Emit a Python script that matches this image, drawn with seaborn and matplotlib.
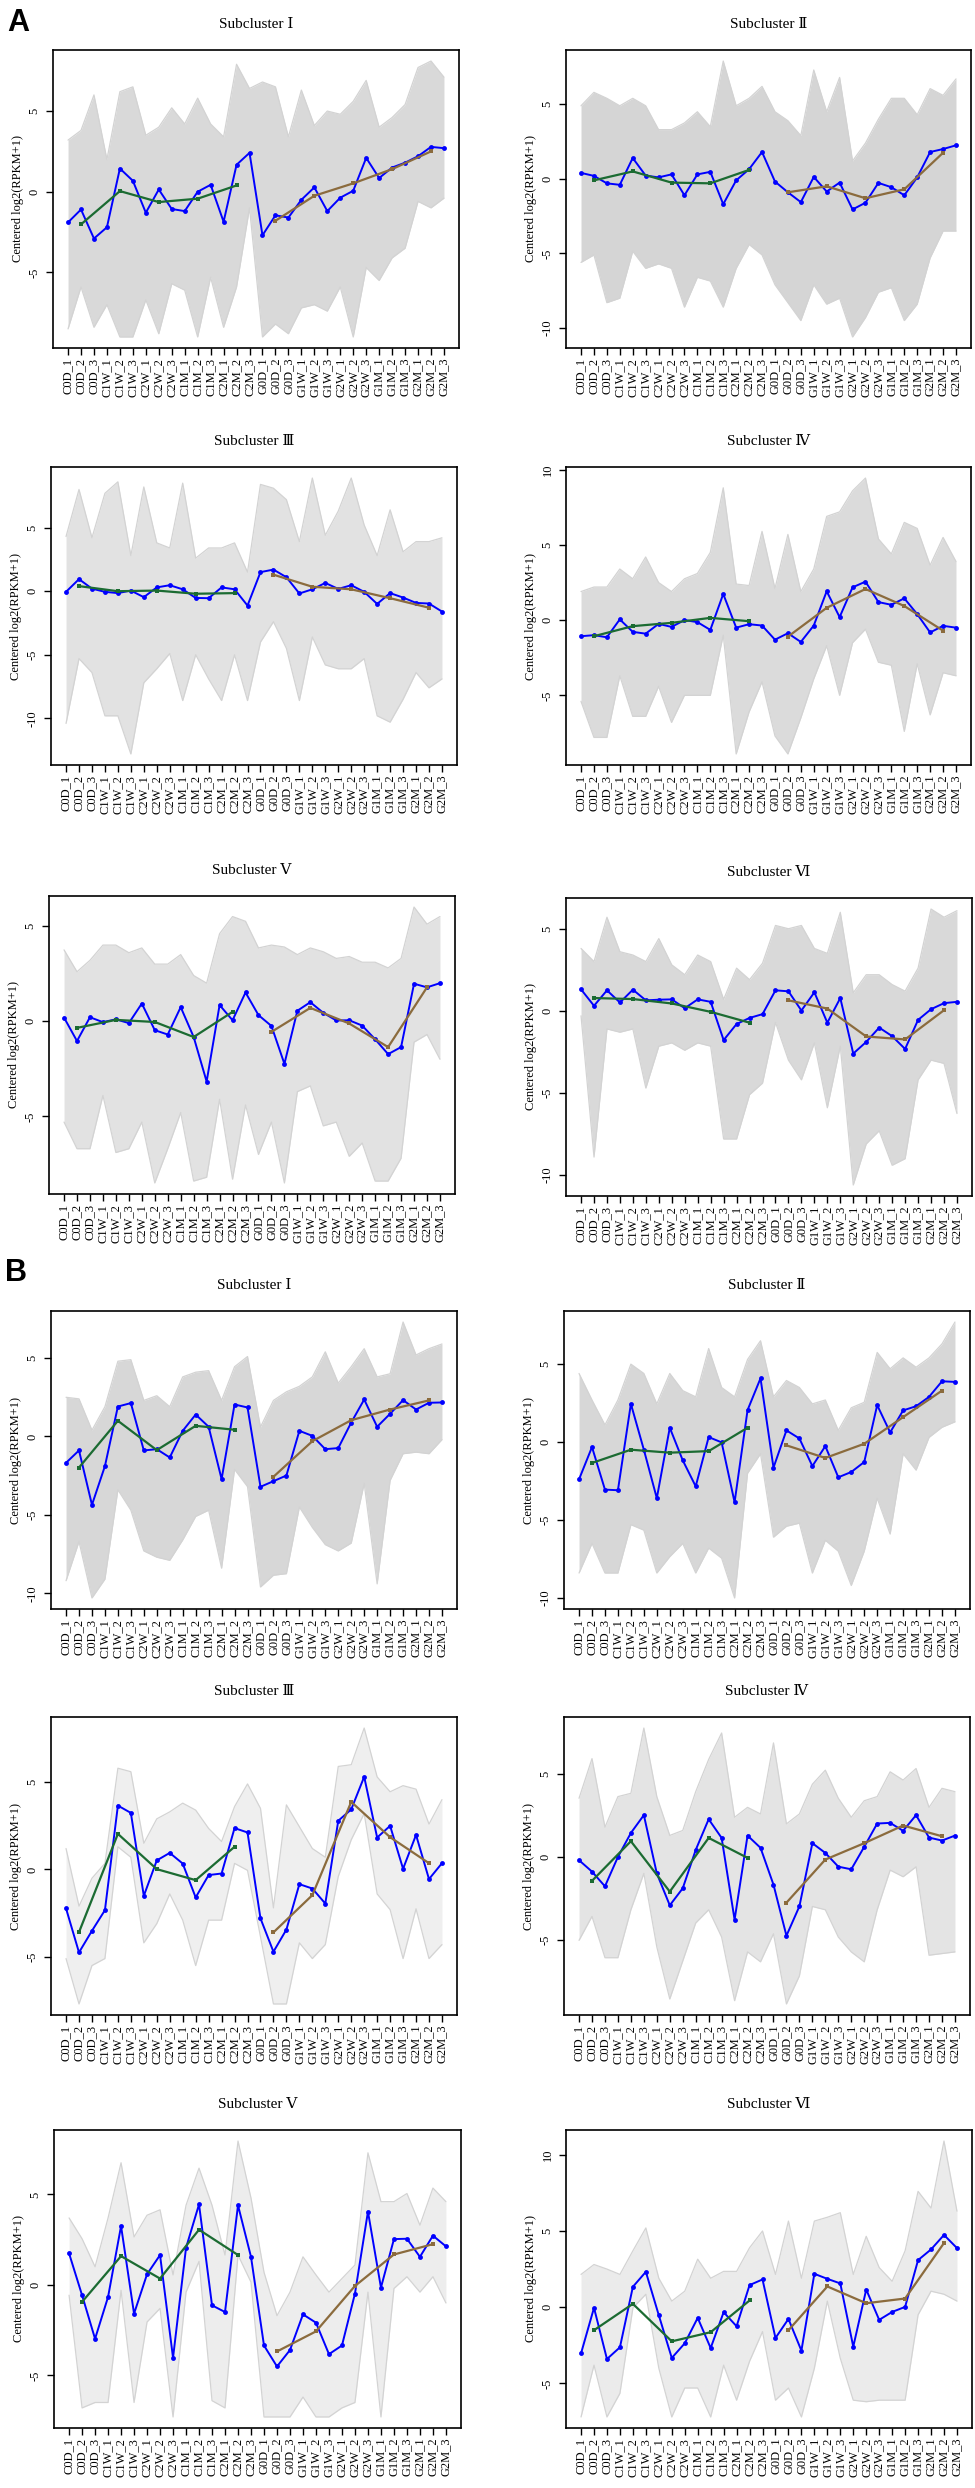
import numpy as np
import matplotlib
matplotlib.use("Agg")
import matplotlib.pyplot as plt
import seaborn as sns

samples = ["C0D_1", "C0D_2", "C0D_3", "C1W_1", "C1W_2", "C1W_3", "C2W_1", "C2W_2", "C2W_3",
           "C1M_1", "C1M_2", "C1M_3", "C2M_1", "C2M_2", "C2M_3",
           "G0D_1", "G0D_2", "G0D_3", "G1W_1", "G1W_2", "G1W_3", "G2W_1", "G2W_2", "G2W_3",
           "G1M_1", "G1M_2", "G1M_3", "G2M_1", "G2M_2", "G2M_3"]

titles = ["Subcluster Ⅰ", "Subcluster Ⅱ", "Subcluster Ⅲ", "Subcluster Ⅳ", "Subcluster Ⅴ", "Subcluster Ⅵ"]

# ---- panel A ----
a1_mean = [-1.9, -1.1, -2.9, -2.2, 1.44, 0.68, -1.3, 0.14, -1.07, -1.2, 0.0, 0.43, -1.86, 1.67, 2.41,
           -2.7, -1.46, -1.6, -0.5, 0.27, -1.2, -0.37, 0.06, 2.1, 0.85, 1.5, 1.8, 2.2, 2.78, 2.7]
a1_c = [-2.02, 0.04, -0.64, -0.43, 0.39]
a1_g = [-1.8, -0.25, 0.52, 1.4, 2.5]
a1_hi = [3.2, 3.8, 6.0, 2.0, 6.2, 6.5, 3.5, 4.0, 5.2, 4.2, 5.8, 4.2, 3.4, 7.9, 6.4,
         6.8, 6.5, 3.4, 6.3, 4.1, 5.0, 4.8, 5.6, 6.9, 4.0, 4.6, 5.4, 7.7, 8.1, 7.1]
a1_lo = [-8.5, -5.9, -8.4, -7.0, -9.0, -9.0, -6.7, -8.8, -5.7, -6.1, -9.0, -5.3, -8.4, -5.9, -1.0,
         -9.0, -8.2, -8.8, -7.2, -7.0, -7.4, -5.9, -9.0, -4.7, -5.5, -4.1, -3.5, -0.6, -1.0, -0.4]

a2_mean = [0.4, 0.2, -0.3, -0.4, 1.4, 0.22, 0.1, 0.3, -1.1, 0.3, 0.47, -1.7, -0.1, 0.65, 1.8,
           -0.18, -0.9, -1.56, 0.13, -0.85, -0.25, -2.05, -1.6, -0.27, -0.56, -1.1, 0.1, 1.8, 2.0, 2.25]
a2_c = [-0.1, 0.5, -0.25, -0.3, 0.6]
a2_g = [-0.9, -0.5, -1.3, -0.7, 1.75]
a2_hi = [4.9, 5.8, 5.4, 4.9, 5.4, 4.9, 3.3, 3.3, 3.75, 4.5, 3.5, 7.9, 4.9, 5.4, 6.2,
         4.5, 3.9, 2.9, 7.3, 4.5, 6.8, 1.2, 2.4, 4.0, 5.4, 5.4, 4.3, 6.05, 5.6, 6.7]
a2_lo = [-5.6, -5.1, -8.3, -8.0, -4.85, -6.0, -5.7, -6.0, -8.6, -6.6, -6.85, -8.6, -6.0, -4.4, -5.1,
         -7.1, -8.3, -9.5, -7.1, -8.4, -8.0, -10.6, -9.3, -7.6, -7.3, -9.5, -8.4, -5.3, -3.5, -3.5]

a3_mean = [-0.05, 0.95, 0.2, -0.05, -0.15, 0.05, -0.47, 0.3, 0.47, 0.15, -0.53, -0.55, 0.3, 0.15, -1.13,
           1.5, 1.7, 1.1, -0.18, 0.15, 0.65, 0.18, 0.47, -0.05, -1.0, -0.15, -0.5, -0.92, -0.97, -1.6]
a3_c = [0.4, 0.0, 0.05, -0.2, -0.15]
a3_g = [1.3, 0.35, 0.15, -0.55, -1.3]
a3_hi = [4.3, 8.0, 4.2, 7.7, 8.6, 2.8, 8.2, 3.8, 3.4, 8.5, 2.6, 3.4, 3.4, 3.8, 1.5,
         8.4, 8.1, 7.2, 3.9, 8.9, 4.4, 6.3, 8.9, 5.2, 2.8, 6.4, 3.1, 3.9, 3.9, 4.2]
a3_lo = [-10.4, -5.3, -6.4, -9.8, -9.8, -12.8, -7.2, -6.1, -4.9, -8.6, -5.0, -6.9, -8.6, -5.0, -8.6,
         -4.0, -2.4, -4.5, -8.6, -3.6, -5.8, -6.1, -6.1, -5.3, -9.8, -10.3, -8.5, -6.4, -7.6, -6.9]

a4_mean = [-1.07, -1.0, -1.14, 0.05, -0.78, -0.9, -0.25, -0.45, 0.0, -0.13, -0.65, 1.74, -0.5, -0.27, -0.36,
           -1.3, -0.87, -1.45, -0.36, 1.92, 0.2, 2.18, 2.56, 1.2, 1.02, 1.45, 0.4, -0.82, -0.38, -0.5]
a4_c = [-1.07, -0.4, -0.18, 0.15, -0.07]
a4_g = [-1.1, 0.82, 2.07, 0.94, -0.7]
a4_hi = [1.9, 2.2, 2.2, 3.4, 2.75, 4.2, 2.5, 1.9, 2.75, 3.1, 4.5, 8.8, 2.4, 2.3, 5.9,
         2.1, 5.7, 1.9, 3.4, 6.9, 7.2, 8.6, 9.45, 5.4, 4.4, 6.5, 6.1, 3.65, 5.5, 3.9]
a4_lo = [-5.4, -7.8, -7.8, -3.7, -6.4, -6.4, -4.4, -6.8, -5.0, -5.0, -5.0, -1.0, -8.9, -6.1, -4.1,
         -7.7, -8.9, -6.5, -3.9, -1.7, -5.0, -1.5, -0.6, -2.8, -3.0, -7.4, -2.9, -6.3, -3.5, -3.7]

a5_mean = [0.19, -1.04, 0.21, -0.05, 0.1, -0.1, 0.93, -0.47, -0.7, 0.74, -0.83, -3.17, 0.85, 0.05, 1.51,
           0.32, -0.25, -2.24, 0.55, 1.0, 0.44, 0.04, 0.05, -0.23, -0.95, -1.73, -1.36, 1.97, 1.78, 2.0]
a5_c = [-0.35, 0.07, -0.04, -0.83, 0.49]
a5_g = [-0.56, 0.7, -0.12, -1.36, 1.78]
a5_hi = [3.75, 2.6, 3.2, 4.0, 4.0, 3.6, 3.85, 3.0, 3.0, 3.5, 2.4, 2.0, 4.6, 5.5, 5.25,
         3.85, 4.0, 3.9, 3.5, 3.85, 3.65, 3.3, 3.4, 3.1, 3.1, 2.8, 3.3, 6.0, 5.1, 5.5]
a5_lo = [-5.3, -6.7, -6.7, -3.9, -6.9, -6.7, -5.3, -8.5, -6.7, -4.8, -8.4, -8.2, -4.1, -8.3, -4.4,
         -7.0, -5.3, -8.5, -3.7, -3.4, -5.5, -5.3, -7.1, -6.4, -8.4, -8.4, -7.2, -1.1, -0.7, -2.0]

a6_mean = [1.31, 0.31, 1.25, 0.51, 1.29, 0.64, 0.68, 0.7, 0.16, 0.7, 0.55, -1.78, -0.8, -0.43, -0.2,
           1.25, 1.19, 0.02, 1.13, -0.72, 0.78, -2.6, -1.89, -1.02, -1.54, -2.32, -0.55, 0.1, 0.47, 0.55]
a6_c = [0.78, 0.72, 0.45, -0.06, -0.72]
a6_g = [0.64, 0.14, -1.56, -1.74, 0.04]
a6_hi = [3.8, 3.0, 5.7, 3.6, 3.4, 3.0, 4.4, 2.8, 2.2, 3.4, 3.0, 0.7, 2.6, 1.9, 2.9,
         5.2, 5.0, 5.2, 3.8, 3.5, 6.0, 1.1, 2.2, 2.2, 1.6, 1.2, 2.6, 6.2, 5.7, 6.1]
a6_lo = [-0.3, -8.9, -1.1, -1.3, -1.1, -4.7, -2.15, -1.95, -2.4, -1.95, -2.15, -7.8, -7.8, -5.1, -4.4,
         -0.7, -3.0, -4.2, -1.95, -5.9, -2.15, -10.6, -8.1, -7.3, -9.4, -9.0, -4.2, -3.0, -3.2, -6.25]

# ---- panel B ----
b1_mean = [-1.68, -0.89, -4.36, -1.89, 1.91, 2.13, -0.89, -0.81, -1.34, 0.36, 1.4, 0.62, -2.72, 2.04, 1.85,
           -3.21, -2.85, -2.49, 0.36, 0.04, -0.81, -0.74, 0.89, 2.36, 0.62, 1.45, 2.32, 1.72, 2.15, 2.17]
b1_c = [-1.98, 1.0, -0.87, 0.68, 0.43]
b1_g = [-2.57, -0.3, 1.04, 1.72, 2.3]
b1_hi = [2.5, 2.4, 0.4, 1.9, 4.8, 4.9, 2.3, 2.6, 1.9, 3.8, 4.1, 4.2, 2.3, 4.45, 5.1,
         0.6, 2.3, 2.85, 3.2, 3.8, 5.4, 3.4, 4.45, 5.6, 3.8, 4.0, 7.3, 5.2, 5.6, 5.9]
b1_lo = [-9.2, -6.7, -10.3, -9.1, -3.4, -4.7, -7.3, -7.7, -7.9, -6.6, -5.1, -4.7, -8.4, -2.1, -3.2,
         -9.6, -8.85, -8.75, -4.5, -5.8, -6.9, -7.3, -6.8, -3.0, -9.4, -2.8, -1.1, -1.0, -1.1, -0.2]

b2_mean = [-2.39, -0.32, -3.05, -3.09, 2.45, -0.49, -3.6, 0.92, -1.17, -2.84, 0.32, -0.02, -3.86, 2.05, 4.09,
           -1.64, 0.75, 0.23, -1.54, -0.26, -2.26, -1.92, -1.28, 2.37, 0.62, 2.03, 2.3, 2.9, 3.9, 3.86]
b2_c = [-1.34, -0.49, -0.68, -0.58, 0.92]
b2_g = [-0.21, -1.02, -0.11, 1.6, 3.3]
b2_hi = [4.4, 2.7, 1.1, 2.7, 5.0, 4.4, 2.45, 4.4, 3.3, 2.9, 6.0, 3.5, 2.9, 5.3, 6.5,
         2.9, 3.95, 3.5, 2.45, 2.7, 0.75, 2.2, 2.55, 5.75, 4.7, 5.4, 4.8, 5.4, 6.3, 7.7]
b2_lo = [-8.4, -6.5, -8.4, -8.4, -5.3, -5.65, -8.4, -7.35, -6.5, -8.4, -6.8, -7.45, -10.0, -2.0, -0.75,
         -6.1, -5.4, -5.2, -8.4, -6.3, -7.0, -9.2, -7.0, -3.6, -5.9, -0.75, -1.8, 0.3, 0.95, 1.3]

b3_mean = [-2.23, -4.75, -3.51, -2.33, 3.66, 3.24, -1.51, 0.52, 0.95, 0.34, -1.6, -0.32, -0.23, 2.37, 2.12,
           -2.8, -4.71, -3.44, -0.84, -1.09, -1.95, 2.79, 3.44, 5.31, 1.83, 2.5, 0.04, 1.98, -0.55, 0.36]
b3_c = [-3.59, 2.04, 0.02, -0.61, 1.3]
b3_g = [-3.6, -1.47, 3.87, 1.85, 0.36]
b3_hi = [1.2, -2.1, -0.5, 0.35, 5.8, 5.6, 1.5, 2.9, 3.3, 3.8, 3.4, 2.35, 1.6, 3.6, 4.9,
         3.5, -2.2, 3.7, 2.45, 1.2, 0.7, 5.9, 6.0, 8.1, 5.3, 4.45, 4.8, 4.6, 2.6, 4.0]
b3_lo = [-5.1, -7.7, -5.5, -5.1, 1.3, 0.7, -4.2, -3.1, -1.4, -2.9, -5.5, -2.9, -2.9, 0.35, -0.05,
         -3.85, -7.7, -7.7, -4.2, -5.1, -4.3, -0.4, 1.7, 3.2, -1.4, -2.3, -5.1, -2.25, -5.1, -4.3]

b4_mean = [-0.2, -0.89, -1.78, 0.0, 1.45, 2.53, -1.0, -2.93, -1.9, 0.42, 2.28, 1.15, -3.8, 1.29, 0.55,
           -1.68, -4.77, -2.99, 0.83, 0.24, -0.59, -0.75, 0.61, 2.02, 2.06, 1.58, 2.53, 1.17, 0.99, 1.29]
b4_c = [-1.45, 0.95, -2.1, 1.15, -0.06]
b4_g = [-2.77, -0.16, 0.83, 1.9, 1.25]
b4_hi = [3.55, 5.95, 1.8, 3.65, 3.85, 7.8, 3.65, 1.3, 1.6, 3.95, 5.9, 7.5, 2.4, 3.0, 2.6,
         6.9, 2.0, 2.6, 4.4, 5.25, 3.55, 2.4, 3.4, 3.65, 5.15, 4.65, 5.35, 3.0, 4.15, 3.95]
b4_lo = [-5.05, -3.6, -6.1, -6.1, -3.2, -1.0, -5.45, -8.6, -6.3, -4.0, -3.2, -4.85, -8.7, -5.75, -6.35,
         -4.65, -8.9, -7.2, -3.0, -3.2, -4.85, -5.75, -6.35, -3.2, -0.8, -1.2, -0.6, -5.95, -5.85, -5.75]

b5_mean = [1.74, -0.57, -2.98, -0.67, 3.25, -1.59, 0.59, 1.65, -4.03, 2.05, 4.45, -1.13, -1.5, 4.4, 1.55,
           -3.35, -4.51, -3.6, -1.63, -2.09, -3.83, -3.35, -0.48, 4.05, -0.15, 2.53, 2.55, 1.55, 2.72, 2.13]
b5_c = [-0.94, 1.59, 0.35, 3.05, 1.65]
b5_g = [-3.68, -2.57, -0.06, 1.68, 2.25]
b5_hi = [3.7, 2.55, 1.0, 3.7, 6.75, 2.65, 3.85, 4.15, 0.55, 4.4, 6.45, 4.4, 1.65, 7.95, 4.8,
         0.7, -1.7, -0.4, 1.55, 0.55, -0.4, 0.35, 1.1, 7.3, 4.6, 4.6, 5.05, 3.3, 5.35, 4.6]
b5_lo = [-0.57, -6.8, -6.5, -6.5, -0.3, -6.5, -2.05, -1.3, -7.3, -0.4, 1.3, -6.4, -6.8, 1.65, 0.15,
         -7.3, -7.3, -7.3, -6.2, -7.3, -7.3, -6.8, -6.5, -0.4, -7.3, -0.2, 0.45, -0.4, 0.45, -1.0]

b6_mean = [-3.03, -0.04, -3.4, -2.63, 1.34, 2.32, -0.53, -3.33, -2.37, -0.7, -2.68, -0.33, -1.25, 1.45, 1.82,
           -2.02, -0.77, -2.85, 2.19, 1.86, 1.56, -2.59, 1.16, -0.83, -0.31, 0.02, 3.09, 3.79, 4.74, 3.88]
b6_c = [-1.51, 0.22, -2.24, -1.64, 0.44]
b6_g = [-1.51, 1.36, 0.26, 0.57, 4.21]
b6_hi = [2.15, 2.8, 2.5, 2.15, 3.7, 5.2, 1.9, 0.4, 1.05, 3.15, 1.9, 2.35, 2.35, 3.9, 5.0,
         2.15, 5.65, 1.9, 5.65, 5.9, 6.2, 2.15, 4.65, 2.6, 1.7, 3.7, 7.6, 6.5, 10.9, 6.3]
b6_lo = [-7.2, -3.8, -7.2, -5.65, -0.05, 0.85, -4.0, -7.2, -5.3, -5.3, -7.2, -3.8, -6.1, -3.55, -1.6,
         -6.1, -5.3, -7.2, -4.0, 0.4, -3.35, -6.1, -6.2, -6.1, -6.1, -6.1, -0.5, 1.05, 0.85, 0.4]

panels = [
    (a1_mean, a1_c, a1_g, a1_hi, a1_lo), (a2_mean, a2_c, a2_g, a2_hi, a2_lo),
    (a3_mean, a3_c, a3_g, a3_hi, a3_lo), (a4_mean, a4_c, a4_g, a4_hi, a4_lo),
    (a5_mean, a5_c, a5_g, a5_hi, a5_lo), (a6_mean, a6_c, a6_g, a6_hi, a6_lo),
    (b1_mean, b1_c, b1_g, b1_hi, b1_lo), (b2_mean, b2_c, b2_g, b2_hi, b2_lo),
    (b3_mean, b3_c, b3_g, b3_hi, b3_lo), (b4_mean, b4_c, b4_g, b4_hi, b4_lo),
    (b5_mean, b5_c, b5_g, b5_hi, b5_lo), (b6_mean, b6_c, b6_g, b6_hi, b6_lo),
]

# axes boxes in pixels (left, top, width, height) and how dense the grey gene lines look
boxes = [(53, 50, 406, 298), (566, 50, 405, 298),
         (51, 467, 406, 298), (566, 467, 405, 298),
         (49, 896, 406, 298), (566, 898, 406, 298),
         (51, 1311, 406, 298), (564, 1311, 406, 298),
         (51, 1717, 406, 298), (564, 1717, 406, 298),
         (54, 2130, 407, 298), (566, 2130, 406, 298)]
density = [0.85, 0.95, 0.65, 0.8, 0.65, 0.85, 0.9, 0.9, 0.35, 0.6, 0.4, 0.45]

W, H = 975, 2488

sns.set_theme(style="ticks")
plt.rcParams['font.family'] = ['Liberation Serif', 'DejaVu Serif', 'Noto Sans CJK SC']
plt.rcParams['axes.unicode_minus'] = False
plt.rcParams['text.color'] = 'black'
plt.rcParams['axes.labelcolor'] = 'black'
plt.rcParams['xtick.color'] = 'black'
plt.rcParams['ytick.color'] = 'black'

fig = plt.figure(figsize=(W / 100, H / 100), dpi=100)

xs = np.arange(len(samples))
c_idx = [i for i, s in enumerate(samples) if s.startswith("C") and s.endswith("_2")]
g_idx = [i for i, s in enumerate(samples) if s.startswith("G") and s.endswith("_2")]

for k, (mean, cm, gm, hi, lo) in enumerate(panels):
    left, top, w, h = boxes[k]
    ax = fig.add_axes([left / W, 1 - (top + h) / H, w / W, h / H])

    # grey envelope of the individual gene profiles
    ax.fill_between(xs, lo, hi, color='#d3d3d3', alpha=density[k], lw=0)
    ax.plot(xs, hi, color='#d3d3d3', lw=0.9)
    ax.plot(xs, lo, color='#d3d3d3', lw=0.9)

    sns.lineplot(x=xs, y=mean, ax=ax, color='#0000ff', lw=1.4, marker='o',
                 markersize=3.5, markeredgewidth=0)
    sns.lineplot(x=c_idx, y=cm, ax=ax, color='#1b6b32', lw=1.6, marker='s',
                 markersize=3, markeredgewidth=0)
    sns.lineplot(x=g_idx, y=gm, ax=ax, color='#8b6b3d', lw=1.6, marker='s',
                 markersize=3, markeredgewidth=0)

    ymin, ymax = min(lo), max(hi)
    pad = 0.04 * (ymax - ymin)
    ax.set_ylim(ymin - pad, ymax + pad)
    n = len(samples) - 1
    ax.set_xlim(-0.04 * n, n * 1.04)
    ax.set_yticks([t for t in range(-15, 16, 5) if ymin - pad <= t <= ymax + pad])
    ax.set_xticks(xs)
    ax.set_xticklabels(samples, rotation=90, fontsize=9)
    ax.tick_params(axis='x', length=5, width=1, pad=2, labelsize=9)
    ax.tick_params(axis='y', length=5, width=1, pad=4, labelsize=9)
    for lab in ax.get_yticklabels():
        lab.set_rotation(90)
        lab.set_va('center')
    ax.set_ylabel("Centered log2(RPKM+1)", fontsize=9, labelpad=3)
    ax.set_title(titles[k % 6], fontsize=11, pad=16)
    for sp in ax.spines.values():
        sp.set_color('black')
        sp.set_linewidth(1.2)
    ax.grid(False)

fig.text(7 / W, 1 - 8 / H, "A", fontsize=22, fontweight='bold', family='Liberation Sans', va='top')
fig.text(5 / W, 1 - 1258 / H, "B", fontsize=22, fontweight='bold', family='Liberation Sans', va='top')

fig.savefig("out.png", dpi=100)
